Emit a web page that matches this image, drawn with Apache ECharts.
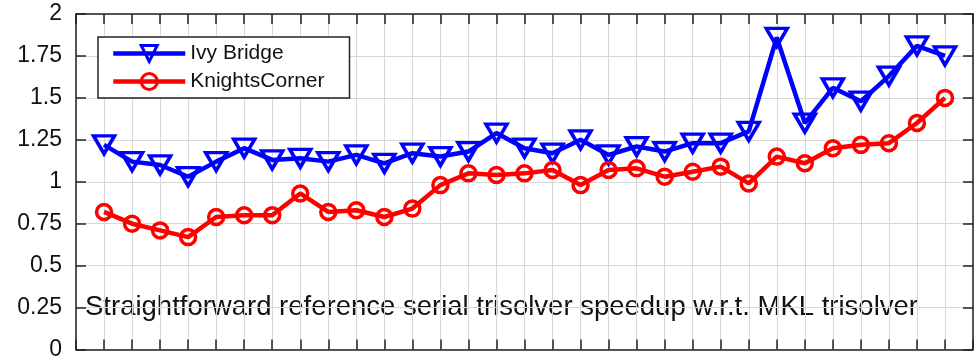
<!DOCTYPE html>
<html><head><meta charset="utf-8">
<script src="https://cdn.jsdelivr.net/npm/echarts@6/dist/echarts.min.js"></script>
<style>html,body{margin:0;padding:0;background:#fff}#c{width:980px;height:361px}</style>
</head><body><div id="c"></div>
<script>
const categories = [1,2,3,4,5,6,7,8,9,10,11,12,13,14,15,16,17,18,19,20,21,22,23,24,25,26,27,28,29,30,31];
const ivyBridge = [1.22,1.12,1.10,1.03,1.12,1.20,1.13,1.14,1.12,1.16,1.11,1.17,1.15,1.18,1.29,1.20,1.17,1.25,1.16,1.21,1.18,1.23,1.23,1.30,1.86,1.35,1.56,1.48,1.63,1.81,1.75];
const knightsCorner = [0.82,0.75,0.71,0.67,0.79,0.80,0.80,0.93,0.82,0.83,0.79,0.84,0.98,1.05,1.04,1.05,1.07,0.98,1.07,1.08,1.03,1.06,1.09,0.99,1.15,1.11,1.20,1.22,1.23,1.35,1.50];
const yTickLabels = ['0','0.25','0.5','0.75','1','1.25','1.5','1.75','2'];
const seriesNames = ['Ivy Bridge','KnightsCorner'];
const annotation = 'Straightforward reference serial trisolver speedup w.r.t. MKL trisolver';

const FONT = "'Liberation Sans', Arial, Helvetica, sans-serif";
const chart = echarts.init(document.getElementById('c'), null, {renderer:'canvas'});
const pairs = arr => arr.map((v,i) => [categories[i], v]);
const mkLine = () => ({show:true, onZero:false, lineStyle:{color:'#222', width:1.5}});
const mkTick = () => ({show:true, inside:true, length:10, lineStyle:{color:'#222', width:1.5}});
const mkGrid = () => ({show:true, lineStyle:{color:'#d8d8d8', width:1}});
chart.setOption({
  animation:false,
  backgroundColor:'#fff',
  grid:{left:76, right:7, top:14, bottom:9, containLabel:false},
  xAxis:[
    {type:'value', min:0, max:32, interval:1, position:'bottom', axisLine:mkLine(), axisTick:mkTick(), axisLabel:{show:false}, splitLine:mkGrid()},
    {type:'value', min:0, max:32, interval:1, position:'top', axisLine:mkLine(), axisTick:mkTick(), axisLabel:{show:false}, splitLine:{show:false}}
  ],
  yAxis:[
    {type:'value', min:0, max:2, interval:0.25, position:'left', axisLine:mkLine(), axisTick:mkTick(),
     axisLabel:{show:true, margin:14, color:'#111', fontSize:23, fontFamily:FONT, formatter:(v)=>yTickLabels[Math.round(v/0.25)]},
     splitLine:mkGrid()},
    {type:'value', min:0, max:2, interval:0.25, position:'right', axisLine:mkLine(), axisTick:mkTick(), axisLabel:{show:false}, splitLine:{show:false}}
  ],
  legend:{
    orient:'vertical', left:98, top:37, padding:[6,25,6,13], itemGap:7,
    itemWidth:72, itemHeight:20, backgroundColor:'#fff', borderColor:'#222', borderWidth:1.5, borderRadius:0,
    lineStyle:{width:4.5},
    itemStyle:{borderWidth:3},
    textStyle:{fontSize:21, fontFamily:FONT, color:'#111'},
    data:seriesNames
  },
  graphic:[{type:'text', left:85, top:293, style:{text:annotation, font:'27.5px '+FONT, fill:'#111'}}],
  series:[
    {name:seriesNames[0], type:'line', data:pairs(ivyBridge), symbol:'triangle', symbolRotate:180, symbolSize:[21,18],
     lineStyle:{color:'#0000ff', width:4.5}, itemStyle:{color:'rgba(255,255,255,0)', borderColor:'#0000ff', borderWidth:3.5},
     emphasis:{disabled:true}, z:3},
    {name:seriesNames[1], type:'line', data:pairs(knightsCorner), symbol:'circle', symbolSize:15,
     lineStyle:{color:'#ff0000', width:4.5}, itemStyle:{color:'rgba(255,255,255,0)', borderColor:'#ff0000', borderWidth:3.5},
     emphasis:{disabled:true}, z:3}
  ]
});
</script></body></html>
